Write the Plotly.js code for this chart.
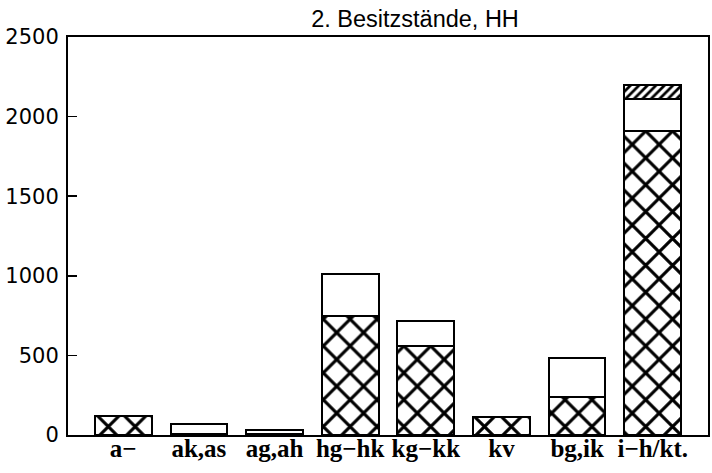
<!DOCTYPE html>
<html>
<head>
<meta charset="utf-8">
<script src="https://cdn.plot.ly/plotly-3.0.1.min.js"></script>
<style>html,body{margin:0;padding:0;background:#fff;}#chart{width:712px;height:473px;}</style>
</head>
<body>
<div id="chart"></div>
<script>
const categories = ["a\u2212", "ak,as", "ag,ah", "hg\u2212hk", "kg\u2212kk", "kv", "bg,ik", "i\u2212h/kt."];
const crossValues = [119, 5, 8, 745, 560, 113, 239, 1910];
const whiteValues = [0, 64, 24, 265, 157, 0, 245, 200];
const hatchValues = [0, 0, 0, 0, 0, 0, 0, 90];
const yTicks = [0, 500, 1000, 1500, 2000, 2500];

const line = {color: "#000", width: 2};
const traces = [
  {type: "bar", x: categories, y: crossValues, hoverinfo: "skip",
   marker: {color: "#fff", line: line,
            pattern: {shape: "x", fgcolor: "#000", bgcolor: "#fff", fgopacity: 1, size: 19, solidity: 0.3, fillmode: "replace"}}},
  {type: "bar", x: categories, y: whiteValues, hoverinfo: "skip",
   marker: {color: "#fff", line: line}},
  {type: "bar", x: categories, y: hatchValues, hoverinfo: "skip",
   marker: {color: "#fff", line: line,
            pattern: {shape: "/", fgcolor: "#000", bgcolor: "#fff", fgopacity: 1, size: 6, solidity: 0.45, fillmode: "replace"}}}
];

const layout = {
  width: 712, height: 473,
  margin: {l: 68, r: 4, t: 37, b: 38},
  paper_bgcolor: "#fff", plot_bgcolor: "#fff",
  barmode: "stack", bargap: 0.25,
  showlegend: false,
  title: {text: "2. Besitzstände, HH", x: 415/712, xanchor: "center", xref: "container",
          y: 1 - 19/473, yanchor: "middle", yref: "container",
          font: {family: "Liberation Sans, Arial, sans-serif", size: 23.5, color: "#000"}},
  xaxis: {type: "category", range: [-0.73, 7.73], showgrid: false, zeroline: false,
          showline: true, linecolor: "#000", linewidth: 2, mirror: true, ticks: "",
          ticklabelstandoff: -10,
          tickfont: {family: "Liberation Serif, Times New Roman, serif", size: 25, color: "#000", weight: "bold"}},
  yaxis: {range: [0, 2500], tickvals: yTicks, ticktext: yTicks.map(String), showgrid: false, zeroline: false,
          showline: true, linecolor: "#000", linewidth: 2, mirror: true,
          ticks: "inside", ticklen: 9, tickwidth: 1.5, tickcolor: "#000", ticklabelstandoff: 3,
          tickfont: {family: "DejaVu Sans, sans-serif", size: 21, color: "#000"}}
};

Plotly.newPlot("chart", traces, layout, {staticPlot: true, displayModeBar: false});
</script>
</body>
</html>
